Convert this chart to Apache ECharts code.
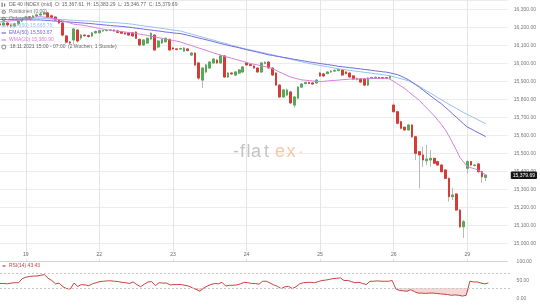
<!DOCTYPE html>
<html><head><meta charset="utf-8">
<script src="https://cdn.jsdelivr.net/npm/echarts@6/dist/echarts.min.js"></script>
<style>html,body{margin:0;padding:0;background:#fff}#c{width:540px;height:305px}</style>
</head><body><div id="c"></div>
<script>
const FONT = '"Liberation Sans", Arial, sans-serif';

// ---- categories (hourly candles) ----
const dayNames  = ['18.11','19.11','22.11','23.11','24.11','25.11','26.11','29.11'];
const firstHour = [15, 2, 2, 2, 2, 2, 2, 2];
const lastHour  = [21,21,21,21,21,21,21,13];
const categories = [];
dayNames.forEach((d,k)=>{ for(let h=firstHour[k]; h<=lastHour[k]; h++) categories.push(d+' '+String(h).padStart(2,'0')+':00'); });

// ---- candles: [open, close, low, high] ----
const candles = [
[16220,16214,16203,16231],[16214,16225,16208,16236],[16225,16214,16203,16231],[16214,16208,16197,16220],
[16208,16220,16200,16226],[16220,16236,16215,16240],[16236,16248,16230,16252],
[16248,16258,16240,16265],[16258,16253,16246,16264],[16253,16264,16248,16270],[16264,16270,16258,16278],
[16270,16275,16262,16284],[16275,16281,16268,16290],[16281,16258,16252,16284],[16265,16257,16250,16272],
[16258,16242,16235,16262],[16242,16225,16218,16246],[16225,16158,16150,16230],[16153,16119,16110,16160],
[16119,16114,16103,16125],[16131,16192,16105,16197],[16186,16125,16115,16192],[16142,16158,16130,16164],
[16158,16155,16148,16163],[16155,16150,16143,16160],[16153,16170,16147,16175],[16170,16178,16165,16183],
[16171,16182,16165,16188],[16181,16183,16176,16188],[16183,16184,16178,16190],[16184,16186,16180,16192],
[16186,16181,16176,16191],[16181,16173,16168,16185],[16175,16168,16163,16180],[16170,16164,16160,16174],
[16170,16158,16153,16175],[16170,16153,16148,16174],[16175,16140,16135,16180],[16134,16103,16095,16138],
[16103,16131,16097,16135],[16114,16140,16108,16145],[16136,16168,16130,16172],[16158,16075,16069,16162],
[16092,16125,16085,16130],[16114,16133,16108,16138],[16121,16140,16115,16145],[16134,16075,16068,16140],
[16086,16081,16075,16092],[16081,16078,16072,16086],[16081,16083,16075,16088],[16069,16086,16064,16092],
[16081,16072,16067,16086],[16047,16058,16042,16064],[16058,15992,15985,16062],[16003,15919,15908,16008],
[15908,15975,15864,15980],[15953,15992,15945,15997],[15975,16008,15970,16014],[16003,16025,15997,16030],
[16019,16003,15997,16025],[16003,16042,15997,16053],[16042,15925,15919,16047],[15925,15947,15919,15953],
[15947,15942,15936,15953],[15936,15953,15930,15958],[15947,15964,15942,15969],[15953,15981,15947,15986],
[16003,15992,15986,16008],[15994,15989,15983,15999],[15986,15975,15970,15990],[15975,15953,15947,15980],
[15953,16003,15947,16008],[16000,16006,15995,16014],[16008,15975,15970,16014],[15975,15936,15930,15980],
[15947,15880,15875,15952],[15880,15814,15808,15885],[15814,15853,15808,15858],[15825,15853,15820,15860],
[15842,15781,15775,15848],[15769,15814,15753,15820],[15808,15869,15800,15875],[15869,15886,15864,15892],
[15889,15894,15883,15900],[15894,15889,15884,15899],[15892,15886,15880,15897],[15892,15908,15886,15914],
[15947,15931,15925,15953],[15942,15931,15925,15947],[15944,15953,15940,15958],[15953,15958,15948,15964],
[15958,15962,15953,15967],[15961,15967,15956,15972],[15964,15936,15930,15969],[15953,15944,15939,15958],
[15947,15925,15920,15953],[15931,15914,15908,15936],[15912,15916,15906,15922],[15914,15897,15892,15919],
[15914,15880,15875,15919],[15880,15919,15875,15925],[15919,15922,15915,15927],[15920,15923,15916,15928],
[15922,15919,15914,15926],[15921,15918,15913,15925],[15921,15918,15912,15925],[15919,15928,15913,15933],
[15769,15732,15728,15779],[15732,15668,15662,15737],[15677,15640,15634,15682],[15646,15631,15625,15650],
[15631,15658,15625,15664],[15658,15593,15587,15664],[15593,15501,15464,15598],[15510,15492,15306,15515],
[15492,15464,15426,15538],[15460,15469,15436,15547],[15464,15473,15426,15519],[15473,15446,15440,15478],
[15455,15436,15430,15460],[15436,15399,15393,15441],[15408,15362,15356,15413],[15362,15260,15232,15367],
[15260,15269,15242,15308],[15275,15186,15180,15280],[15186,15093,15087,15192],[15093,15121,15031,15131],
[15418,15455,15390,15464],[15455,15436,15430,15460],[15433,15436,15428,15441],[15442,15399,15393,15447],
[15399,15371,15338,15404],[15367.61,15379.69,15346.77,15383.29]
];

const sma50 = [16256,16255,16255,16254,16254,16253,16253,16252,16252,16252,16251,16251,
16250,16249,16247,16246,16245,16244,16243,16241,16240,16239,16238,16237,
16236,16235,16233,16232,16231,16229,16228,16227,16226,16224,16223,
16221,16218,16215,16212,16209,16206,16204,16201,16198,16195,16192,16189,
16186,16183,16181,
16175,16169,16164,16158,16152,16147,16141,16135,16130,16124,16118,16113,16107,16101,16096,16090,16085,
16080,16076,16071,16067,16063,16058,16054,
16049,16043,16038,16033,16028,
16024,16019,16014,16010,16005,16000,
15997,15993,15989,15985,15982,15978,15974,15970,
15967,15965,15962,15959,15957,15954,15951,15949,15946,15943,15941,15938,15935,
15932,15926,15921,15915,15910,15904,
15895,15884,15872,
15860,15847,15835,15823,15810,15798,15786,
15774,15762,15751,15739,15727,
15717,15707,15697,15686,15676,15665.76];

const ema50 = [16245,16244,16244,16244,16244,16243,16243,16243,16243,16242,16242,16242,
16240,16239,16237,16236,16234,16233,16232,16230,16229,16227,16226,16224,
16223,16221,16219,16217,16215,16213,16211,16209,16208,16206,16204,
16202,16199,16196,16194,16191,16188,16186,16183,16181,16178,16175,16173,
16170,16168,16166,
16162,16157,16152,16147,16142,16137,16132,16127,16122,16116,
16111,16106,16101,16096,16092,16087,16082,16077,16072,16068,16063,16058,16053,16048,
16045,16041,16038,16034,16031,
16027,16023,16020,16016,16013,16009,
16006,16003,16000,15997,15994,15991,15988,15984,
15982,15980,15977,15975,15972,15970,15967,15965,
15962,15959,15957,15954,15952,
15948,15943,15938,
15930,15920,15910,
15896,15882,15868,
15852,15836,15821,15805,15790,
15776,15757,15739,15720,15702,15683,15665,
15647,15637,15626,15615,15605,15593.67];

const wma20 = [16231,16233,16235,16237,16238,16240,16242,
16246,16250,16255,16259,16260,
16258,16255,16251,16247,
16244,16238,16232,16225,16219,
16216,16214,16211,
16207,16203,16199,16195,16191,16187,
16184,16182,16179,16177,16175,16172,16170,
16167,16163,16160,16156,
16152,16148,16144,16140,16136,
16132,16128,16124,16120,
16113,16106,16100,16093,16086,16080,16073,16066,16059,16053,
16046,16040,16035,16029,16023,16018,16012,16006,
16000,15996,15992,15987,15983,15979,
15971,15962,15952,15943,15933,
15925,15919,15914,15909,
15907,15905,15903,15901,
15899,15901,15903,15905,15906,15908,15910,15911,15913,
15914,15914,15915,15915,15916,15916,15917,15917,15918,15918,
15913,15900,15887,15874,
15861,15844,15827,15811,
15795,15773,15752,15731,
15710,15685,15660,15633,
15598,15559,15520,
15478,15453,
15428,15421,15415,15408,
15394,15380.90];

const rsi14 = [42,42,41,43,44,44,55,59,61,62,62,64,66,56,50,41,43,33,28,27,
43,34,39,38,36,41,44,47,48,49,49,48,47,45,44,42,46,39,33,40,
46,47,36,44,43,43,38,39,39,39,37,35,30,26,21,29,35,39,42,41,
45,35,37,37,38,41,45,44,42,42,40,48,48,43,38,34,28,33,34,28,
33,41,44,45,45,44,47,50,51,53,55,56,57,50,50,47,44,45,42,39,
48,48,49,48,48,48,50,27,23,22,21,25,20,16,16,15,16,16,15,14,
13,12,10,11,10,8,10,48,46,46,43,41,43.43];

const dayTickLabels = ['19','22','23','24','25','26','29'];
const rsiLevels = [30, 70];

// ---- helpers ----
const fmt = v => Number(v).toLocaleString('en-US',{minimumFractionDigits:2, maximumFractionDigits:2});
const isDayStart = (idx, val) => dayTickLabels.includes(String(val).slice(0,2)) && String(val).endsWith(' 02:00');
const last = candles[candles.length-1];

const bodies = candles.map(c => [c[0], c[1], Math.min(c[0],c[1]), Math.max(c[0],c[1])]);
const rsiBase = rsi14.map(v => Math.min(v, 30));
const rsiGap  = rsi14.map(v => 30 - Math.min(v, 30));

const C_SMA = '#93c5ea', C_EMA = '#7468e0', C_WMA = '#d880da';
const C_UP = '#56a956', C_DN = '#d63b36';
const Y_MIN = 14900, Y_MAX = 16352.8;

function txt(x, y, text, fill, size, extra) {
  return Object.assign({type:'text', x, y, silent:true, z:100,
    style:{text, fill, fontSize:size||5, fontFamily:FONT, verticalAlign:'middle', align:'left'}}, extra||{});
}
function dash(y, color) {
  return {type:'line', silent:true, z:100, shape:{x1:1.5, y1:y, x2:6, y2:y}, style:{stroke:color, lineWidth:1.2}};
}
const wmGray = '#c4c4c4', wmOrange = '#f6c7a6';
const wm = (x, ch, col, size) => txt(x, 152, ch, col, size || 18, {z:1});

const graphics = [
  {type:'rect', silent:true, z:100, shape:{x:1.5, y:2.5, width:1.2, height:4.5}, style:{fill:'#777'}},
  {type:'rect', silent:true, z:100, shape:{x:4, y:3.5, width:1.2, height:3}, style:{fill:'#777'}},
  txt(9, 5, 'DE 40 INDEX (mid)  O: '+fmt(last[0])+'  H: '+fmt(last[3])+'  L: '+fmt(last[2])+'  C: '+fmt(last[1]), '#666'),
  txt(1.3, 12, '⚙', '#666', 5.5),
  txt(9, 12, 'Positionen (0,00)', '#777'),
  txt(1.3, 19, '⚙', '#666', 5.5),
  txt(9, 19, 'Orders (0)', '#777'),
  dash(26, C_SMA), txt(9, 26, 'SMA(50) '+fmt(sma50[sma50.length-1]), C_SMA),
  dash(33, C_EMA), txt(9, 33, 'EMA(50) '+fmt(ema50[ema50.length-1]), C_EMA),
  dash(40, C_WMA), txt(9, 40, 'WMA(20) '+fmt(wma20[wma20.length-1]), C_WMA),
  {type:'circle', silent:true, z:100, shape:{cx:3.8, cy:47, r:2}, style:{fill:'none', stroke:'#666', lineWidth:0.8}},
  txt(10, 47, '18.11.2021 15:00 - 07:00', '#666'),
  txt(68, 47, '(2 Wochen, 1 Stunde)', '#666'),
  {type:'line', silent:true, z:100, shape:{x1:2.5, y1:266, x2:5.5, y2:266}, style:{stroke:'#c9413f', lineWidth:1.2}},
  txt(9, 266, 'RSI(14) '+fmt(rsi14[rsi14.length-1]), '#c9413f'),
  // watermark
  wm(233, '-', wmGray), wm(240, 'f', wmGray), wm(246.5, 'l', wmGray), wm(251, 'a', wmGray), wm(264, 't', wmGray),
  wm(275, 'e', wmOrange), wm(286.5, 'x', wmOrange), wm(298.5, '·', wmOrange, 14)
];

const GRID_L = 0, GRID_R = 29.4;
const chart = echarts.init(document.getElementById('c'));
chart.setOption({
  animation:false,
  backgroundColor:'#fff',
  textStyle:{fontFamily:FONT},
  grid:[
    {left:GRID_L, right:GRID_R, top:0, height:261.5},
    {left:GRID_L, right:GRID_R, top:262, height:37}
  ],
  xAxis:[
    {type:'category', gridIndex:0, data:categories, boundaryGap:false,
     axisLine:{show:true, lineStyle:{color:'#d4d4d4', width:1}},
     axisTick:{show:false},
     axisLabel:{show:true, inside:true, interval:isDayStart, formatter:v=>String(v).slice(0,2),
       fontSize:5, color:'#666', margin:3, fontFamily:FONT, backgroundColor:'#fff', padding:[1,1]},
     splitLine:{show:true, interval:isDayStart, lineStyle:{color:'#e4e4e4', width:1}}},
    {type:'category', gridIndex:1, data:categories, boundaryGap:false, show:false}
  ],
  yAxis:[
    {type:'value', gridIndex:0, position:'right', min:Y_MIN, max:Y_MAX, interval:100,
     axisLine:{show:false}, axisTick:{show:false},
     axisLabel:{formatter:v=>fmt(v), fontSize:5, color:'#777', margin:6, fontFamily:FONT, showMinLabel:false, showMaxLabel:false},
     splitLine:{show:true, lineStyle:{color:'#ececec', width:1}}},
    {type:'value', gridIndex:1, position:'right', min:0, max:100, interval:50,
     axisLine:{show:false}, axisTick:{show:false},
     axisLabel:{formatter:v=>fmt(v), fontSize:5, color:'#777', margin:6, fontFamily:FONT},
     splitLine:{show:false}},
    {type:'value', gridIndex:0, position:'right', min:Y_MIN, max:Y_MAX, z:10,
     axisLine:{show:false}, axisTick:{show:false}, splitLine:{show:false},
     axisLabel:{customValues:[last[1]], formatter:v=>fmt(v), fontSize:5, color:'#fff', margin:3, fontFamily:FONT,
       backgroundColor:'#151515', padding:[1.5,2,1,2], borderRadius:1}}
  ],
  graphic:graphics,
  series:[
    {type:'candlestick', name:'wick', xAxisIndex:0, yAxisIndex:0, data:candles, barWidth:2.2,
     itemStyle:{color:'rgba(0,0,0,0)', color0:'rgba(0,0,0,0)', borderColor:'#b9b9b9', borderColor0:'#b9b9b9', borderWidth:1}},
    {type:'candlestick', name:'body', xAxisIndex:0, yAxisIndex:0, data:bodies, barWidth:2.2,
     itemStyle:{color:C_UP, color0:C_DN, borderColor:C_UP, borderColor0:C_DN, borderWidth:1}},
    {type:'line', name:'SMA(50)', data:sma50, symbol:'none', lineStyle:{color:C_SMA, width:1}, itemStyle:{color:C_SMA}, z:3},
    {type:'line', name:'EMA(50)', data:ema50, symbol:'none', lineStyle:{color:C_EMA, width:1}, itemStyle:{color:C_EMA}, z:3},
    {type:'line', name:'WMA(20)', data:wma20, symbol:'none', lineStyle:{color:C_WMA, width:1}, itemStyle:{color:C_WMA}, z:3},
    {type:'line', name:'rsiBase', xAxisIndex:1, yAxisIndex:1, data:rsiBase, stack:'rsiFill', symbol:'none', lineStyle:{opacity:0}},
    {type:'line', name:'rsiGap', xAxisIndex:1, yAxisIndex:1, data:rsiGap, stack:'rsiFill', symbol:'none', lineStyle:{opacity:0},
     areaStyle:{color:'rgba(214,96,96,0.35)'}},
    {type:'line', name:'RSI(14)', xAxisIndex:1, yAxisIndex:1, data:rsi14, symbol:'none',
     lineStyle:{color:'#c9413f', width:1}, itemStyle:{color:'#c9413f'},
     markLine:{silent:true, symbol:['none','none'], animation:false, label:{show:false},
       lineStyle:{type:[2,2], color:'#c8c8c8', width:1},
       data:rsiLevels.map(v=>({yAxis:v}))}}
  ]
});
</script></body></html>
